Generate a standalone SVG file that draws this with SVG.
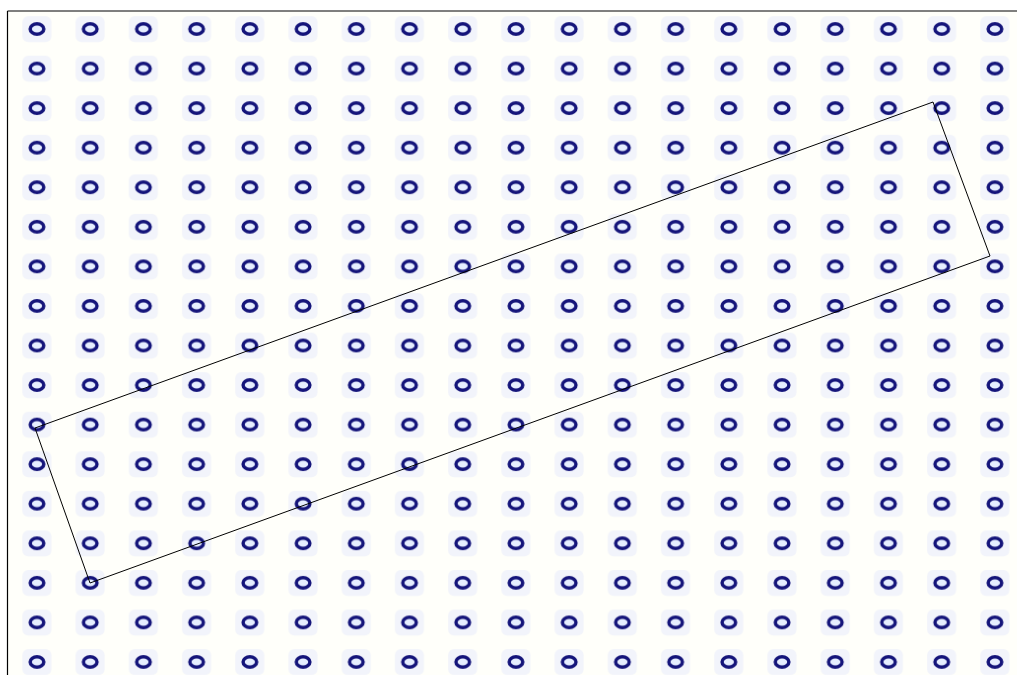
<svg xmlns="http://www.w3.org/2000/svg" width="1017" height="675" viewBox="0 0 1017 675">
<style>
.frame{stroke:#000;stroke-width:1.2;fill:none}
.sel{stroke:#000;stroke-width:1;fill:none}
.dot{fill:#e6eeff;stroke:#14147a;stroke-width:3.4}
.halo{fill:#f2f4fb}
</style>
<defs>
<pattern id="grid" patternUnits="userSpaceOnUse" x="10.39" y="9.22" width="53.22" height="39.56">
<rect x="0" y="0" width="53.22" height="39.56" fill="#fffffa"/>
<rect class="halo" x="12" y="7" width="29" height="26" rx="6"/>
<ellipse class="dot" cx="26.61" cy="19.78" rx="6.8" ry="5.2"/>
</pattern>
</defs>
<rect x="0" y="0" width="1017" height="675" fill="#fff"/>
<rect x="8" y="11" width="1009" height="664" fill="url(#grid)"/>
<g id="frame">
<line class="frame" x1="7.5" y1="11" x2="1017" y2="11"/>
<line class="frame" x1="7.5" y1="11" x2="7.5" y2="675"/>
</g>
<g id="connectors">
<polygon class="sel" points="35,428 933,102 990,256 90,583"/>
</g>
</svg>
